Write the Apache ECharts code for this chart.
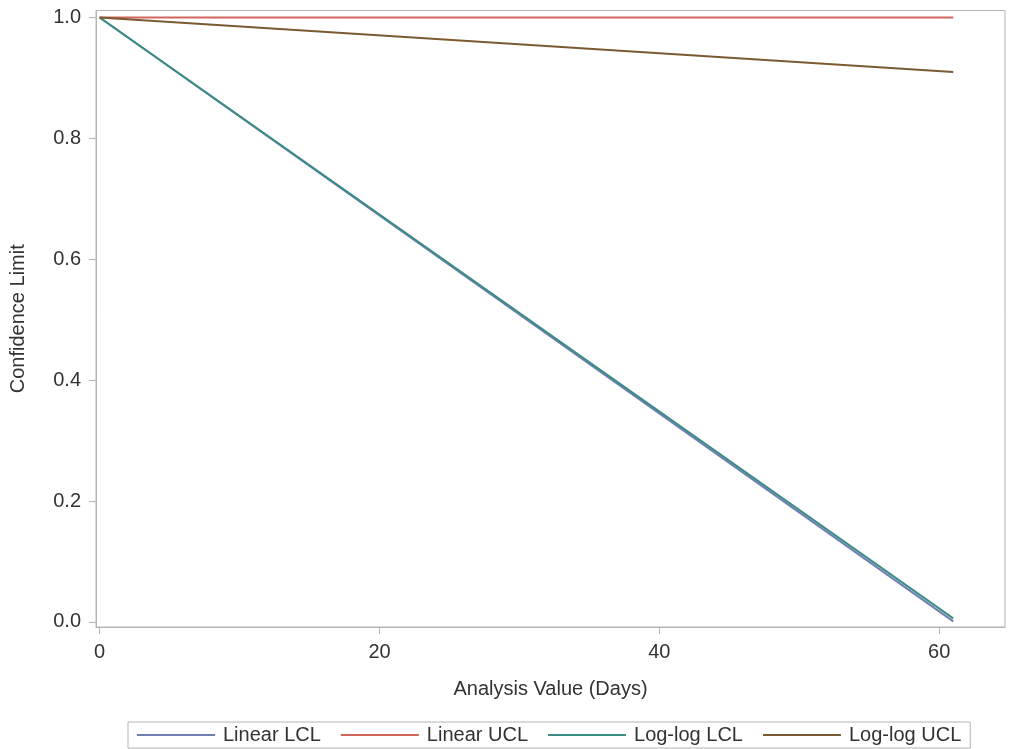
<!DOCTYPE html>
<html>
<head>
<meta charset="utf-8">
<title>Confidence Limits</title>
<script src="https://cdn.jsdelivr.net/npm/echarts@6/dist/echarts.min.js"></script>
<style>
  html, body { margin: 0; padding: 0; background: #fff; }
  #chart { width: 1011px; height: 749px; }
</style>
</head>
<body>
<div id="chart"></div>
<script>
// data
var seriesNames = ['Linear LCL', 'Linear UCL', 'Log-log LCL', 'Log-log UCL'];
var days = [0, 61];
var linearLCL = [1.0, 0.001];
var linearUCL = [1.0, 1.0];
var loglogLCL = [1.0, 0.006];
var loglogUCL = [1.0, 0.910];
var xTicks = [0, 20, 40, 60];
var yTicks = [0, 0.2, 0.4, 0.6, 0.8, 1.0];
var colors = ['#6f7eb3', '#d0665e', '#3a8c85', '#7b5a33'];

function pairs(xs, ys) {
  var out = [];
  for (var i = 0; i < xs.length; i++) {
    out.push([xs[i], ys[i]]);
  }
  return out;
}

var allValues = [linearLCL, linearUCL, loglogLCL, loglogUCL];
var font = '"Liberation Sans", Arial, sans-serif';

var myChart = echarts.init(document.getElementById('chart'));
var option = {
  animation: false,
  color: colors,
  textStyle: { fontFamily: font },
  grid: {
    left: 96, right: 6, top: 10.5, bottom: 122,
    show: true, borderColor: '#b4b4b4', borderWidth: 1
  },
  legend: {
    data: seriesNames,
    bottom: 1,
    left: 128,
    orient: 'horizontal',
    icon: 'rect',
    borderColor: '#b4b4b4',
    borderWidth: 1,
    padding: [2, 9, 2, 9],
    itemGap: 20,
    itemWidth: 78,
    itemHeight: 2,
    textStyle: { fontSize: 20, color: '#333', fontFamily: font, padding: [0, 0, 0, 3], lineHeight: 22 }
  },
  xAxis: {
    type: 'value',
    min: -0.26,
    max: 64.7,
    name: 'Analysis Value (Days)',
    nameLocation: 'middle',
    nameGap: 52,
    nameTextStyle: { fontSize: 20, color: '#333', fontFamily: font },
    axisLine: { show: true, onZero: false, lineStyle: { color: '#b4b4b4' } },
    axisTick: { show: true, length: 7, customValues: xTicks, lineStyle: { color: '#b4b4b4' } },
    axisLabel: { customValues: xTicks, fontSize: 20, color: '#333', margin: 15, fontFamily: font },
    splitLine: { show: false }
  },
  yAxis: {
    type: 'value',
    min: -0.0083,
    max: 1.0116,
    name: 'Confidence Limit',
    nameLocation: 'middle',
    nameGap: 68,
    nameTextStyle: { fontSize: 20, color: '#333', fontFamily: font },
    axisLine: { show: true, onZero: false, lineStyle: { color: '#b4b4b4' } },
    axisTick: { show: true, length: 7, customValues: yTicks, lineStyle: { color: '#b4b4b4' } },
    axisLabel: {
      customValues: yTicks, fontSize: 20, color: '#333', margin: 15, fontFamily: font,
      formatter: function (v) { return v.toFixed(1); }
    },
    splitLine: { show: false }
  },
  series: seriesNames.map(function (name, i) {
    return {
      name: name,
      type: 'line',
      symbol: 'none',
      data: pairs(days, allValues[i]),
      lineStyle: { width: 2, color: colors[i] },
      itemStyle: { color: colors[i] }
    };
  })
};

if (option && typeof option === "object") {
  myChart.setOption(option, true);
}
</script>
</body>
</html>
